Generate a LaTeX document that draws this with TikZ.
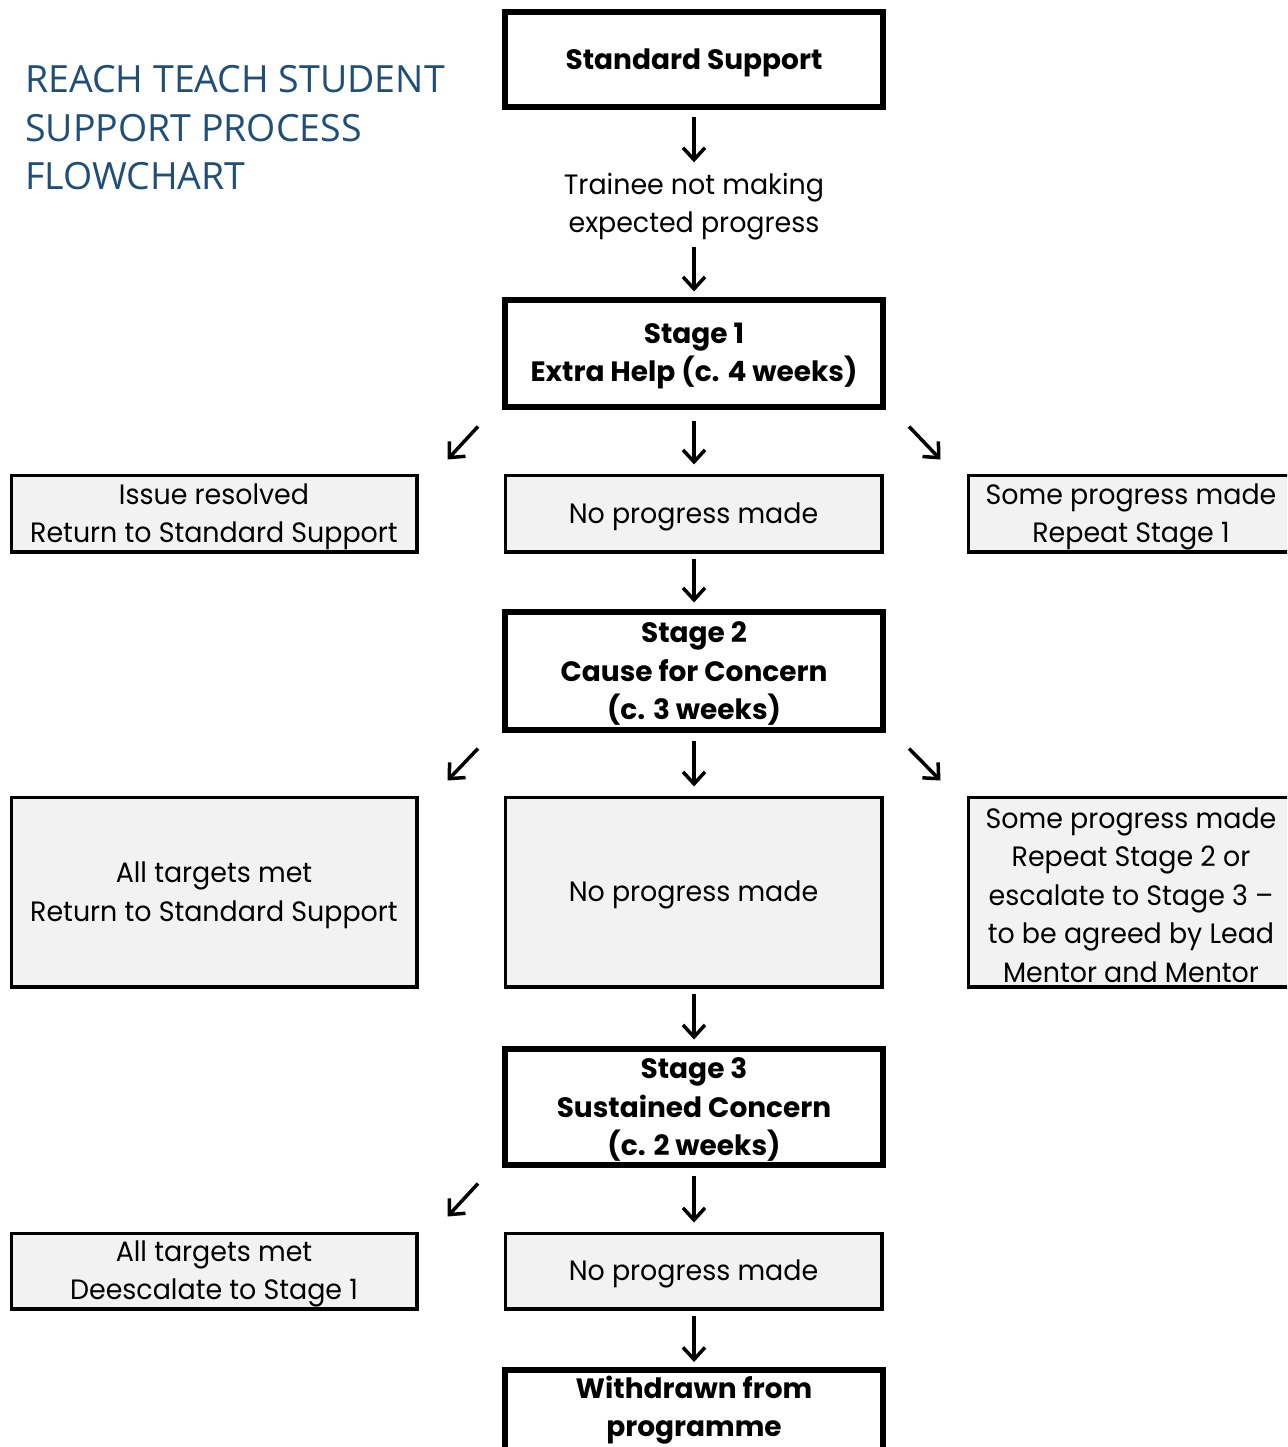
\documentclass[tikz,border=0pt]{standalone}
\usepackage{fontspec}
\usetikzlibrary{arrows.meta}
\newfontfamily\bodyfont[FakeStretch=0.96]{Poppins}
\newfontfamily\bodybffont{Poppins}
\newfontfamily\titlefont{Open Sans}
\definecolor{titleblue}{RGB}{31,78,121}
\definecolor{boxgray}{RGB}{242,242,242}
\newcommand{\bodytxt}{\bodyfont\fontsize{28}{38.4}\selectfont}
\newcommand{\bodybftxt}{\bodybffont\bfseries\fontsize{28}{38.4}\selectfont}
\newcommand{\tstrut}{\rule{0pt}{27pt}}
\begin{document}
\begin{tikzpicture}[x=1pt,y=-1pt,
  thickbox/.style={draw, line width=6pt, fill=white, align=center, font=\bodybftxt, inner sep=0pt},
  thinbox/.style={draw, line width=3.5pt, fill=boxgray, align=center, font=\bodytxt, inner sep=0pt},
  plaintext/.style={align=center, font=\bodytxt, inner sep=0pt},
  titletext/.style={anchor=base west, inner sep=0pt, text=titleblue, font=\titlefont\fontsize{37.5}{48}\selectfont},
  arr/.style={line width=3.5pt, -{Straight Barb[length=12pt,width=22pt]}}]
\clip (0,0) rectangle (1287,1447);
% title
\node[titletext] (t1) at (25,93) {REACH TEACH STUDENT};
\node[titletext] (t2) at (25,141.5) {SUPPORT PROCESS};
\node[titletext] (t3) at (25,190) {FLOWCHART};
% main column
\node[thickbox, minimum width=378, minimum height=95] (ss) at (694,60) {\tstrut Standard Support};
\node[plaintext] (tn) at (694,204) {\tstrut Trainee not making\\expected progress};
\node[thickbox, minimum width=378, minimum height=107] (s1) at (694,353) {\tstrut Stage 1\\Extra Help (c. 4 weeks)};
\node[thinbox, minimum width=376.5, minimum height=76.5] (np1) at (693.5,513.5) {\tstrut No progress made};
\node[thinbox, minimum width=405.5, minimum height=76.5] (ir) at (214,513.5) {\tstrut Issue resolved\\Return to Standard Support};
\node[thinbox, minimum width=325.5, minimum height=76.5] (sp1) at (1131,513.5) {\tstrut Some progress made\\Repeat Stage 1};
\node[thickbox, minimum width=378, minimum height=118] (s2) at (694,670.5) {\tstrut Stage 2\\Cause for Concern\\(c. 3 weeks)};
\node[thinbox, minimum width=376.5, minimum height=189.5] (np2) at (693.5,892) {\tstrut No progress made};
\node[thinbox, minimum width=405.5, minimum height=189.5] (atm2) at (214,892) {\tstrut All targets met\\Return to Standard Support};
\node[thinbox, minimum width=325.5, minimum height=189.5] (sp2) at (1131,892) {\tstrut Some progress made\\Repeat Stage 2 or\\escalate to Stage 3 –\\to be agreed by Lead\\Mentor and Mentor};
\node[thickbox, minimum width=378, minimum height=116] (s3) at (694,1106.5) {\tstrut Stage 3\\Sustained Concern\\(c. 2 weeks)};
\node[thinbox, minimum width=376.5, minimum height=75.5] (np3) at (693.5,1271) {\tstrut No progress made};
\node[thinbox, minimum width=405.5, minimum height=75.5] (atm3) at (214,1271) {\tstrut All targets met\\Deescalate to Stage 1};
\node[thickbox, minimum width=378, minimum height=95, anchor=north] (wd) at (694,1367) {};
\node[plaintext, font=\bodybftxt] (wdt) at (694,1408) {\tstrut Withdrawn from\\programme};
% vertical arrows
\draw[arr] ([yshift=-7pt]ss.south) -- ([yshift=5pt]tn.north);
\draw[arr] ([yshift=-6pt]tn.south) -- ([yshift=5pt]s1.north);
\draw[arr] ([yshift=-11pt]s1.south) -- ([yshift=9pt]np1.north -| s1.south);
\draw[arr] ([yshift=-5pt]np1.south -| s1.south) -- ([yshift=6pt]s2.north);
\draw[arr] ([yshift=-8pt]s2.south) -- ([yshift=9pt]np2.north -| s2.south);
\draw[arr] ([yshift=-5pt]np2.south -| s2.south) -- ([yshift=6pt]s3.north);
\draw[arr] ([yshift=-8pt]s3.south) -- ([yshift=9pt]np3.north -| s3.south);
\draw[arr] ([yshift=-5pt]np3.south -| s3.south) -- ([yshift=5pt]wd.north);
% diagonal arrows
\draw[arr] ([xshift=-24pt,yshift=-17pt]s1.south west) -- ([xshift=29pt,yshift=14pt]ir.north east);
\draw[arr] ([xshift=23pt,yshift=-17pt]s1.south east) -- ([xshift=-26pt,yshift=14pt]sp1.north west);
\draw[arr] ([xshift=-24pt,yshift=-16pt]s2.south west) -- ([xshift=29pt,yshift=15pt]atm2.north east);
\draw[arr] ([xshift=23pt,yshift=-16pt]s2.south east) -- ([xshift=-26pt,yshift=15pt]sp2.north west);
\draw[arr] ([xshift=-24pt,yshift=-16pt]s3.south west) -- ([xshift=29pt,yshift=15pt]atm3.north east);
\end{tikzpicture}
\end{document}
